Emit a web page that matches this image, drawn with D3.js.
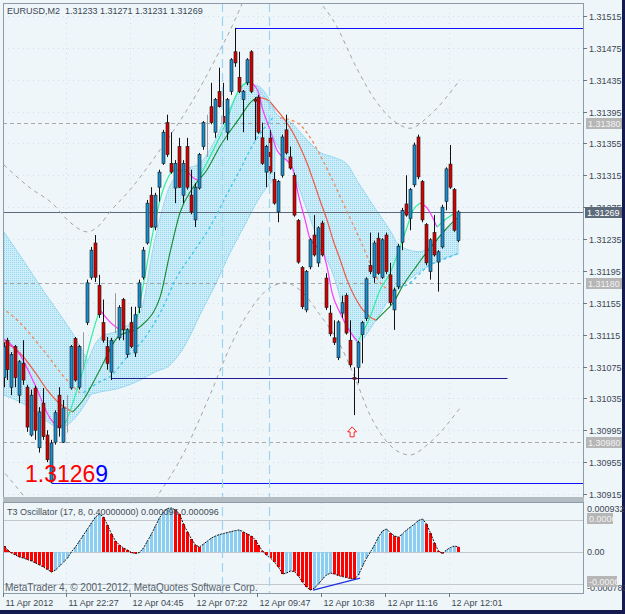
<!DOCTYPE html>
<html>
<head>
<meta charset="utf-8">
<script src="https://cdn.jsdelivr.net/npm/d3@7"></script>
<style>
  body { margin: 0; background: #151a4f; }
  svg { display: block; font-family: "Liberation Sans", Arial, sans-serif; }
</style>
</head>
<body>
<script>
// ---- candles (EURUSD, M2) ----
const open = [1.31061,1.31108,1.31049,1.31100,1.31039,1.31079,1.31049,1.30989,1.31048,1.30973,
  1.31029,1.30989,1.30930,1.30980,1.31039,1.30980,1.31015,1.31048,1.31110,1.31049,
  1.31096,1.31130,1.31187,1.31230,1.31177,1.31130,1.31100,1.31068,1.31143,1.31111,
  1.31159,1.31090,1.31130,1.31092,1.31149,1.31187,1.31230,1.31290,1.31250,1.31300,
  1.31330,1.31381,1.31330,1.31299,1.31351,1.31290,1.31351,1.31290,1.31259,1.31299,
  1.31351,1.31384,1.31401,1.31369,1.31420,1.31389,1.31369,1.31420,1.31470,1.31438,
  1.31410,1.31431,1.31470,1.31410,1.31413,1.31362,1.31319,1.31362,1.31310,1.31269,
  1.31315,1.31372,1.31338,1.31315,1.31258,1.31199,1.31146,1.31200,1.31240,1.31205,
  1.31255,1.31186,1.31142,1.31111,1.31086,1.31142,1.31164,1.31108,1.31061,1.31074,
  1.31115,1.31135,1.31202,1.31187,1.31236,1.31187,1.31240,1.31190,1.31146,1.31175,
  1.31231,1.31279,1.31261,1.31303,1.31363,1.31307,1.31253,1.31194,1.31243,1.31206,
  1.31225,1.31282,1.31329,1.31297,1.31233];
const high = [1.31105,1.31111,1.31093,1.31102,1.31083,1.31108,1.31052,1.31046,1.31051,1.31024,
  1.31048,1.30995,1.30983,1.31020,1.31049,1.31033,1.31039,1.31102,1.31112,1.31102,
  1.31118,1.31184,1.31225,1.31240,1.31190,1.31159,1.31112,1.31111,1.31167,1.31152,
  1.31161,1.31123,1.31150,1.31150,1.31184,1.31225,1.31284,1.31300,1.31293,1.31322,
  1.31372,1.31391,1.31369,1.31334,1.31362,1.31334,1.31362,1.31322,1.31305,1.31343,
  1.31383,1.31391,1.31431,1.31412,1.31450,1.31431,1.31412,1.31462,1.31500,1.31470,
  1.31422,1.31462,1.31472,1.31413,1.31416,1.31381,1.31353,1.31372,1.31319,1.31309,
  1.31366,1.31391,1.31351,1.31318,1.31260,1.31201,1.31196,1.31236,1.31265,1.31251,
  1.31258,1.31192,1.31152,1.31133,1.31133,1.31164,1.31167,1.31133,1.31074,1.31107,
  1.31132,1.31187,1.31243,1.31233,1.31243,1.31236,1.31243,1.31205,1.31174,1.31229,
  1.31274,1.31315,1.31299,1.31356,1.31366,1.31309,1.31255,1.31236,1.31265,1.31221,
  1.31278,1.31325,1.31353,1.31299,1.31271];
const low = [1.31049,1.31058,1.31039,1.31049,1.31029,1.31052,1.30993,1.30987,1.30983,1.30967,
  1.30983,1.30955,1.30929,1.30977,1.30987,1.30979,1.30992,1.31046,1.31056,1.31046,
  1.31071,1.31127,1.31184,1.31181,1.31136,1.31105,1.31071,1.31058,1.31117,1.31108,
  1.31108,1.31086,1.31098,1.31087,1.31142,1.31184,1.31228,1.31249,1.31246,1.31282,
  1.31328,1.31338,1.31317,1.31280,1.31299,1.31280,1.31297,1.31266,1.31250,1.31297,
  1.31347,1.31338,1.31379,1.31362,1.31400,1.31379,1.31359,1.31416,1.31451,1.31418,
  1.31369,1.31428,1.31418,1.31359,1.31367,1.31328,1.31300,1.31317,1.31278,1.31256,
  1.31312,1.31341,1.31322,1.31263,1.31204,1.31147,1.31143,1.31197,1.31213,1.31200,
  1.31213,1.31146,1.31113,1.31102,1.31083,1.31136,1.31115,1.31074,1.31014,1.31054,
  1.31079,1.31132,1.31191,1.31180,1.31190,1.31185,1.31191,1.31152,1.31121,1.31172,
  1.31221,1.31263,1.31246,1.31300,1.31310,1.31256,1.31202,1.31184,1.31213,1.31169,
  1.31223,1.31271,1.31298,1.31244,1.31231];
const close = [1.31100,1.31071,1.31090,1.31061,1.31081,1.31058,1.30999,1.31039,1.30995,1.31018,
  1.30987,1.30958,1.30979,1.31017,1.30998,1.31023,1.31014,1.31100,1.31058,1.31100,
  1.31095,1.31180,1.31221,1.31187,1.31140,1.31108,1.31079,1.31108,1.31142,1.31149,
  1.31121,1.31121,1.31100,1.31140,1.31180,1.31221,1.31280,1.31250,1.31290,1.31319,
  1.31369,1.31341,1.31319,1.31330,1.31300,1.31330,1.31300,1.31269,1.31300,1.31341,
  1.31381,1.31383,1.31381,1.31410,1.31401,1.31381,1.31410,1.31460,1.31456,1.31420,
  1.31420,1.31460,1.31420,1.31408,1.31369,1.31330,1.31351,1.31319,1.31280,1.31307,
  1.31363,1.31343,1.31324,1.31265,1.31206,1.31150,1.31194,1.31234,1.31215,1.31249,
  1.31215,1.31149,1.31116,1.31105,1.31131,1.31155,1.31117,1.31077,1.31059,1.31105,
  1.31130,1.31185,1.31194,1.31230,1.31192,1.31234,1.31194,1.31155,1.31171,1.31226,
  1.31271,1.31265,1.31297,1.31353,1.31313,1.31259,1.31205,1.31234,1.31215,1.31219,
  1.31275,1.31323,1.31300,1.31246,1.31269];

// ---- T3 oscillator histogram ----
const osc = [0.000113,0.000038,-0.000019,-0.000056,-0.000094,-0.000113,-0.000141,-0.000169,-0.000206,-0.000244,
  -0.000281,-0.000328,-0.000375,-0.000338,-0.000263,-0.000188,-0.000113,0.000005,0.000094,0.000206,
  0.000319,0.000431,0.000544,0.000656,0.000713,0.000656,0.000506,0.000338,0.000206,0.000131,
  0.000075,0.000038,-0.000009,-0.000028,-0.000009,0.000075,0.000206,0.000338,0.000488,0.000638,
  0.000750,0.000816,0.000825,0.000788,0.000713,0.000525,0.000375,0.000244,0.000131,0.000094,
  0.000150,0.000206,0.000263,0.000300,0.000328,0.000347,0.000366,0.000384,0.000403,0.000413,
  0.000375,0.000338,0.000300,0.000225,0.000131,0.000019,-0.000056,-0.000113,-0.000188,-0.000281,
  -0.000413,-0.000394,-0.000356,-0.000366,-0.000450,-0.000563,-0.000656,-0.000713,-0.000675,-0.000600,
  -0.000506,-0.000431,-0.000394,-0.000413,-0.000441,-0.000459,-0.000478,-0.000497,-0.000506,-0.000431,
  -0.000263,-0.000113,0.000004,0.000131,0.000281,0.000394,0.000431,0.000356,0.000300,0.000281,
  0.000338,0.000413,0.000469,0.000525,0.000591,0.000619,0.000525,0.000356,0.000169,0.000019,
  -0.000028,0.000038,0.000084,0.000113,0.000096];
const oscDivergence = [[77.7, -0.000713], [89.5, -0.000488]];

// ---- indicator lines: [bar index, price] ----
const fastFalling = [
  [[-0.9,1.31112],[4.1,1.31090],[7.9,1.31052],[11.7,1.31010],[13.7,1.30999]],
  [[24.2,1.31146],[26.7,1.31131],[29.2,1.31121]],
  [[46.3,1.31319],[47.6,1.31312],[48.8,1.31309]],
  [[61.9,1.31432],[63.9,1.31420],[65.1,1.31397],[66.9,1.31372],[68.6,1.31347],[70.0,1.31338],[71.4,1.31332],
   [72.7,1.31322],[73.9,1.31293],[75.7,1.31259],[76.9,1.31236],[78.7,1.31225],[80.2,1.31218],[81.2,1.31200],
   [82.5,1.31167],[84.5,1.31142],[86.2,1.31125],[88.9,1.31106]],
  [[104.5,1.31280],[106.3,1.31274],[108.8,1.31250]]
];
const fastRising = [
  [[13.7,1.30999],[15.4,1.31004],[17.9,1.31037],[20.0,1.31071],[21.7,1.31105],[23.5,1.31136],[24.2,1.31146]],
  [[29.2,1.31121],[31.8,1.31121],[33.5,1.31136],[35.0,1.31175],[37.5,1.31243],[39.3,1.31284],[41.0,1.31309],
   [43.0,1.31322],[46.3,1.31319]],
  [[48.8,1.31309],[51.8,1.31338],[55.1,1.31372],[58.9,1.31420],[60.6,1.31430],[61.9,1.31432]],
  [[88.9,1.31106],[92.0,1.31137],[94.5,1.31171],[97.0,1.31192],[99.5,1.31225],[101.3,1.31250],[102.8,1.31271],[104.5,1.31280]],
  [[108.8,1.31250],[111.3,1.31261],[113.8,1.31269]]
];
const slowFalling = [
  [[0.1,1.31106],[4.1,1.31092],[7.9,1.31068],[10.9,1.31046],[14.2,1.31028],[17.4,1.31018]],
  [[63.6,1.31413],[66.1,1.31410],[68.6,1.31397],[70.7,1.31384],[72.7,1.31368],[74.4,1.31351],[76.2,1.31330],
   [77.7,1.31309],[79.4,1.31284],[81.2,1.31259],[82.7,1.31234],[84.5,1.31209],[86.2,1.31184],[88.2,1.31162],
   [90.2,1.31146],[92.0,1.31137],[93.5,1.31133]]
];
const slowRising = [
  [[17.4,1.31018],[20.0,1.31033],[24.2,1.31071],[28.7,1.31112],[34.3,1.31125],[39.3,1.31162],[41.8,1.31218],
   [44.3,1.31268],[47.6,1.31300],[51.1,1.31322],[54.3,1.31351],[59.4,1.31388],[61.9,1.31406],[63.6,1.31413]],
  [[93.5,1.31133],[95.3,1.31142],[97.8,1.31155],[100.3,1.31177],[103.8,1.31202],[106.3,1.31219],[108.8,1.31234],
   [111.3,1.31249],[113.8,1.31261]]
];
const stopFalling = [
  [[-0.4,1.31149],[4.1,1.31130],[9.9,1.31096],[15.9,1.31058],[19.2,1.31042]],
  [[69.4,1.31387],[73.7,1.31381],[76.9,1.31363],[79.4,1.31341],[82.0,1.31315],[84.5,1.31288],[87.0,1.31261],
   [89.5,1.31234],[92.0,1.31205],[94.0,1.31184],[97.0,1.31171]]
];
const stopRising = [
  [[20.0,1.31042],[24.2,1.31056],[26.7,1.31062],[31.0,1.31087],[35.0,1.31108],[39.3,1.31142],[43.5,1.31187],
   [47.6,1.31218],[51.8,1.31250],[56.9,1.31299],[59.4,1.31322],[61.9,1.31347],[65.1,1.31372],[67.6,1.31387]],
  [[97.8,1.31171],[102.0,1.31180],[106.3,1.31200],[110.3,1.31209],[114.1,1.31217]]
];
// band segments: [bar index, upper price, lower price]
const bandSegments = [
  [[0.1,1.31244,1.31039],[5.4,1.31205,1.31027],[10.4,1.31167,1.31008],[14.2,1.31140,1.30998],[17.9,1.31112,1.31010],[21.7,1.31077,1.31038]],
  [[20.5,1.31073,1.31038],[24.2,1.31111,1.31043],[29.2,1.31121,1.31048],[34.3,1.31143,1.31058],[38.0,1.31234,1.31068],
   [41.8,1.31302,1.31077],[45.6,1.31322,1.31102],[49.3,1.31330,1.31140],[53.1,1.31359,1.31177],[56.9,1.31400,1.31218],
   [60.6,1.31430,1.31253],[63.9,1.31427,1.31284],[68.1,1.31397,1.31312]],
  [[63.9,1.31425,1.31416],[66.9,1.31403,1.31372],[69.4,1.31388,1.31347],[71.9,1.31382,1.31328],[75.7,1.31362,1.31278],
   [79.4,1.31344,1.31228],[83.2,1.31337,1.31184],[86.2,1.31329,1.31131],[88.9,1.31307,1.31106],[93.2,1.31274,1.31131],
   [97.0,1.31246,1.31161],[99.5,1.31226,1.31174],[104.5,1.31219,1.31194],[109.6,1.31240,1.31209],[114.1,1.31259,1.31216]]
];
// dashed grey projection curves
const projCurves = [
  [[0.1,1.31328],[6.7,1.31299],[12.2,1.31280],[16.7,1.31256],[21.0,1.31244],[24.2,1.31253],[26.7,1.31269],
   [31.8,1.31297],[39.3,1.31347],[46.8,1.31403],[53.1,1.31460],[58.1,1.31510],[60.1,1.31533]],
  [[-0.9,1.30948],[5.4,1.30910],[6.7,1.30901]],
  [[38.0,1.30908],[45.6,1.30970],[51.8,1.31039],[56.9,1.31100],[61.9,1.31146],[66.9,1.31174],[70.7,1.31180],
   [74.4,1.31171],[79.4,1.31140],[84.5,1.31102],[88.2,1.31061],[92.0,1.31014],[95.8,1.30983],[99.5,1.30967],
   [102.0,1.30964],[107.1,1.30980],[114.6,1.31023]],
  [[78.9,1.31535],[82.7,1.31510],[88.9,1.31447],[93.2,1.31410],[98.3,1.31382],[102.0,1.31374],[107.1,1.31391],[114.6,1.31435]]
];

// ---- levels and labels ----
const priceTicks = [1.31515,1.31475,1.31435,1.31395,1.31355,1.31315,1.31275,1.31235,1.31195,1.31155,1.31115,1.31075,1.31035,1.30995,1.30955,1.30915];
const dashedLevels = [1.31380, 1.31180, 1.30980];
const bidPrice = 1.31269;
const highLine = {start: 58, price: 1.31500};
const lowLine = {start: 12, price: 1.30929};
const supportLine = {start: 27, end: 126.5, price: 1.31061};
const vLines = [55, 67];
const arrowBar = 87.5, arrowPrice = 1.30993;
const timeIdx = [0, 16, 32, 48, 64, 80, 96, 112];
const timeLabels = ["11 Apr 2012", "11 Apr 22:27", "12 Apr 04:45", "12 Apr 07:22", "12 Apr 09:47", "12 Apr 10:38", "12 Apr 11:16", "12 Apr 12:01"];
const oscLevels = [0.0006, -0.0006];
const oscTop = 0.000932, oscBottom = -0.000783;

// ---- layout ----
const L = 3, R = 583, T = 3, B = 497, OT = 502, OB = 593;
const x = d3.scaleLinear().domain([0, 114]).range([3.5, 457.7]);
const y = d3.scaleLinear().domain([1.30915, 1.31515]).range([494, 15.9]);
const yo = d3.scaleLinear().domain([oscBottom, oscTop]).range([593.8, 502.3]);
const px = i => Math.round(x(i));

const svg = d3.select("body").append("svg").attr("width", 625).attr("height", 614);
svg.append("rect").attr("width", 622).attr("height", 610).attr("fill", "#eef6fa");

const defs = svg.append("defs");
defs.append("clipPath").attr("id", "cm").append("rect").attr("x", L).attr("y", T).attr("width", R - L).attr("height", B - T);
defs.append("clipPath").attr("id", "co").append("rect").attr("x", L).attr("y", OT).attr("width", R - L).attr("height", OB - OT);
// dotted fill like the terminal's hatched cloud
const pat = defs.append("pattern").attr("id", "dots").attr("width", 2).attr("height", 2).attr("patternUnits", "userSpaceOnUse");
pat.append("rect").attr("width", 2).attr("height", 2).attr("fill", "#cdeef9");
pat.append("rect").attr("width", 1).attr("height", 1).attr("fill", "#96d6ef");

const main = svg.append("g").attr("clip-path", "url(#cm)");
const oscG = svg.append("g").attr("clip-path", "url(#co)");

// faint dotted grid
priceTicks.forEach(p => main.append("line").attr("x1", L).attr("x2", R).attr("y1", Math.round(y(p)) + 0.5).attr("y2", Math.round(y(p)) + 0.5)
  .attr("stroke", "#d3dee6").attr("stroke-dasharray", "1,4"));
timeIdx.forEach(i => {
  [main, oscG].forEach(g => g.append("line").attr("x1", px(i) - 0.5).attr("x2", px(i) - 0.5).attr("y1", T).attr("y2", OB)
    .attr("stroke", "#d3dee6").attr("stroke-dasharray", "1,4"));
});

// band
const band = d3.area().x(d => x(d[0])).y0(d => y(d[2])).y1(d => y(d[1])).curve(d3.curveMonotoneX);
bandSegments.forEach(s => main.append("path").attr("d", band(s)).attr("fill", "url(#dots)").attr("stroke", "#9ad8f0").attr("stroke-width", 1));

// horizontal levels
dashedLevels.forEach(p => main.append("line").attr("x1", L).attr("x2", R).attr("y1", Math.round(y(p)) + 0.5).attr("y2", Math.round(y(p)) + 0.5)
  .attr("stroke", "#a9a9a9").attr("stroke-dasharray", "4,3"));
main.append("line").attr("x1", L).attr("x2", R).attr("y1", Math.round(y(bidPrice)) + 0.5).attr("y2", Math.round(y(bidPrice)) + 0.5)
  .attr("stroke", "#5a6a7c");

// grey projection curves
const knot = d3.line().x(d => x(d[0])).y(d => y(d[1])).curve(d3.curveMonotoneX);
projCurves.forEach(c => main.append("path").attr("d", knot(c)).attr("fill", "none").attr("stroke", "#a4a4a4").attr("stroke-dasharray", "4,4"));

// vertical dashed markers
vLines.forEach(i => svg.append("line").attr("x1", px(i) - 0.5).attr("x2", px(i) - 0.5).attr("y1", T).attr("y2", OB)
  .attr("stroke", "#9fd4ee").attr("stroke-width", 1.2).attr("stroke-dasharray", "9,5"));

// trailing stop dashes
stopFalling.forEach(c => main.append("path").attr("d", knot(c)).attr("fill", "none").attr("stroke", "#f28a5c").attr("stroke-width", 1.3).attr("stroke-dasharray", "3,3"));
stopRising.forEach(c => main.append("path").attr("d", knot(c)).attr("fill", "none").attr("stroke", "#3ec6ef").attr("stroke-width", 1.3).attr("stroke-dasharray", "3,3"));

// slow / fast lines
slowFalling.forEach(c => main.append("path").attr("d", knot(c)).attr("fill", "none").attr("stroke", "#f05a44").attr("stroke-width", 1.2));
slowRising.forEach(c => main.append("path").attr("d", knot(c)).attr("fill", "none").attr("stroke", "#108c2c").attr("stroke-width", 1.1));
fastFalling.forEach(c => main.append("path").attr("d", knot(c)).attr("fill", "none").attr("stroke", "#ff38ff").attr("stroke-width", 1.2));
fastRising.forEach(c => main.append("path").attr("d", knot(c)).attr("fill", "none").attr("stroke", "#2cf0a0").attr("stroke-width", 1.2));

// high / low / support lines
main.append("line").attr("x1", px(highLine.start) + 0.5).attr("x2", R).attr("y1", Math.round(y(highLine.price)) + 0.5).attr("y2", Math.round(y(highLine.price)) + 0.5).attr("stroke", "#1010ff");
main.append("line").attr("x1", px(lowLine.start) + 0.5).attr("x2", R).attr("y1", Math.round(y(lowLine.price)) + 0.5).attr("y2", Math.round(y(lowLine.price)) + 0.5).attr("stroke", "#1010ff");
main.append("line").attr("x1", px(supportLine.start)).attr("x2", x(supportLine.end)).attr("y1", Math.round(y(supportLine.price)) + 0.5).attr("y2", Math.round(y(supportLine.price)) + 0.5).attr("stroke", "#1c1c8c");

// candles
const bars = d3.range(open.length).map(i => ({i, o: open[i], h: high[i], l: low[i], c: close[i]}));
const cg = main.append("g");
bars.forEach(d => {
  const cx = px(d.i);
  const doji = Math.abs(d.o - d.c) <= 0.00002;
  cg.append("line").attr("x1", cx + 0.5).attr("x2", cx + 0.5).attr("y1", y(d.h)).attr("y2", y(d.l))
    .attr("stroke", doji ? "#9a9a9a" : "#111");
  if (!doji) {
    const top = y(Math.max(d.o, d.c)), bot = y(Math.min(d.o, d.c));
    cg.append("rect").attr("x", cx - 1).attr("y", top).attr("width", 3).attr("height", Math.max(1, bot - top))
      .attr("fill", d.c > d.o ? "#1b8ccc" : "#d40000").attr("stroke", "#1a1a1a").attr("stroke-width", 0.6);
  }
});

// signal arrow
main.append("path").attr("transform", `translate(${x(arrowBar)},${y(arrowPrice)})`)
  .attr("d", "M0,-5 L4.5,0 L2,0 L2,5 L-2,5 L-2,0 L-4.5,0 Z").attr("fill", "#fff").attr("stroke", "#ff2020");

// big price readout
const big = main.append("text").attr("x", 25).attr("y", 482).attr("font-size", 23);
big.append("tspan").attr("fill", "#ff0000").text("1.3126");
big.append("tspan").attr("fill", "#0000ff").text("9");

// header
svg.append("text").attr("x", 7).attr("y", 14).attr("font-size", 9).attr("fill", "#3c4754")
  .attr("xml:space", "preserve").text("EURUSD,M2  1.31233 1.31271 1.31231 1.31269");

// oscillator
oscLevels.forEach(v => oscG.append("line").attr("x1", L).attr("x2", R).attr("y1", Math.round(yo(v)) + 0.5).attr("y2", Math.round(yo(v)) + 0.5).attr("stroke", "#c4c8cc"));
oscG.append("line").attr("x1", L).attr("x2", R).attr("y1", Math.round(yo(0)) + 0.5).attr("y2", Math.round(yo(0)) + 0.5).attr("stroke", "#c4c8cc");
osc.forEach((v, i) => {
  const rising = i > 0 ? v >= osc[i - 1] : false;
  const y0 = yo(0), y1 = yo(v);
  oscG.append("rect").attr("x", px(i) - 1).attr("width", 3).attr("y", Math.min(y0, y1)).attr("height", Math.max(1, Math.abs(y1 - y0)))
    .attr("fill", rising ? "#8ccdf2" : "#ff0000");
});
oscG.append("path").attr("d", d3.line().x((v, i) => px(i) + 0.5).y(v => yo(v))(osc))
  .attr("fill", "none").attr("stroke", "#111").attr("stroke-width", 1).attr("stroke-dasharray", "2,1");
oscG.append("line").attr("x1", x(oscDivergence[0][0])).attr("y1", yo(oscDivergence[0][1])).attr("x2", x(oscDivergence[1][0])).attr("y2", yo(oscDivergence[1][1]))
  .attr("stroke", "#2030e0").attr("stroke-width", 1.2);
oscG.append("text").attr("x", 7).attr("y", 515).attr("font-size", 9).attr("fill", "#434c56")
  .text("T3 Oscillator (17, 8, 0.40000000) 0.000096 0.000096");
oscG.append("text").attr("x", 5).attr("y", 591).attr("font-size", 10).attr("fill", "#56606a")
  .text("MetaTrader 4, © 2001-2012, MetaQuotes Software Corp.");

// frames
svg.append("rect").attr("x", L + 0.5).attr("y", T + 0.5).attr("width", R - L).attr("height", B - T).attr("fill", "none").attr("stroke", "#8d9aa7");
svg.append("rect").attr("x", L).attr("y", B).attr("width", R - L + 1).attr("height", OT - B).attr("fill", "#b3bbc3");
svg.append("rect").attr("x", L + 0.5).attr("y", OT + 0.5).attr("width", R - L).attr("height", OB - OT).attr("fill", "none").attr("stroke", "#8d9aa7");

// price axis
const ax = svg.append("g").attr("font-size", 9).attr("fill", "#3e4852");
priceTicks.forEach(p => {
  const yy = Math.round(y(p)) + 0.5;
  ax.append("line").attr("x1", R).attr("x2", R + 4).attr("y1", yy).attr("y2", yy).attr("stroke", "#6c7884");
  ax.append("text").attr("x", 589).attr("y", yy + 3).text(p.toFixed(5));
});
function tag(g, yy, txt, bg, fg, x0, w) {
  g.append("rect").attr("x", x0).attr("y", yy - 5.5).attr("width", w).attr("height", 11).attr("fill", bg);
  g.append("text").attr("x", x0 + 2).attr("y", yy + 3).attr("fill", fg).text(txt);
}
dashedLevels.forEach(p => tag(ax, Math.round(y(p)) + 0.5, p.toFixed(5), "#b6b6b6", "#f2f2f2", 586, 36));
tag(ax, Math.round(y(bidPrice)) + 0.5, bidPrice.toFixed(5), "#5c6a7a", "#ffffff", 585, 37);

// oscillator axis
ax.append("text").attr("x", 587).attr("y", yo(oscTop) + 10).text("0.000932");
ax.append("text").attr("x", 587).attr("y", yo(0) + 3).text("0.00");
ax.append("text").attr("x", 587).attr("y", yo(oscBottom) - 3).text("-0.000783");
tag(ax, Math.round(yo(0.0006)) - 1.5, "0.0006", "#b6b6b6", "#f2f2f2", 587, 26);
tag(ax, Math.round(yo(-0.0006)) - 2.5, "-0.0006", "#b6b6b6", "#f2f2f2", 587, 30);

// time axis
timeIdx.forEach((i, k) => {
  const xx = px(i) - 0.5;
  ax.append("line").attr("x1", xx).attr("x2", xx).attr("y1", OB).attr("y2", OB + 4).attr("stroke", "#6c7884");
  ax.append("text").attr("x", xx + 2).attr("y", 606).text(timeLabels[k]);
});
</script>
</body>
</html>
